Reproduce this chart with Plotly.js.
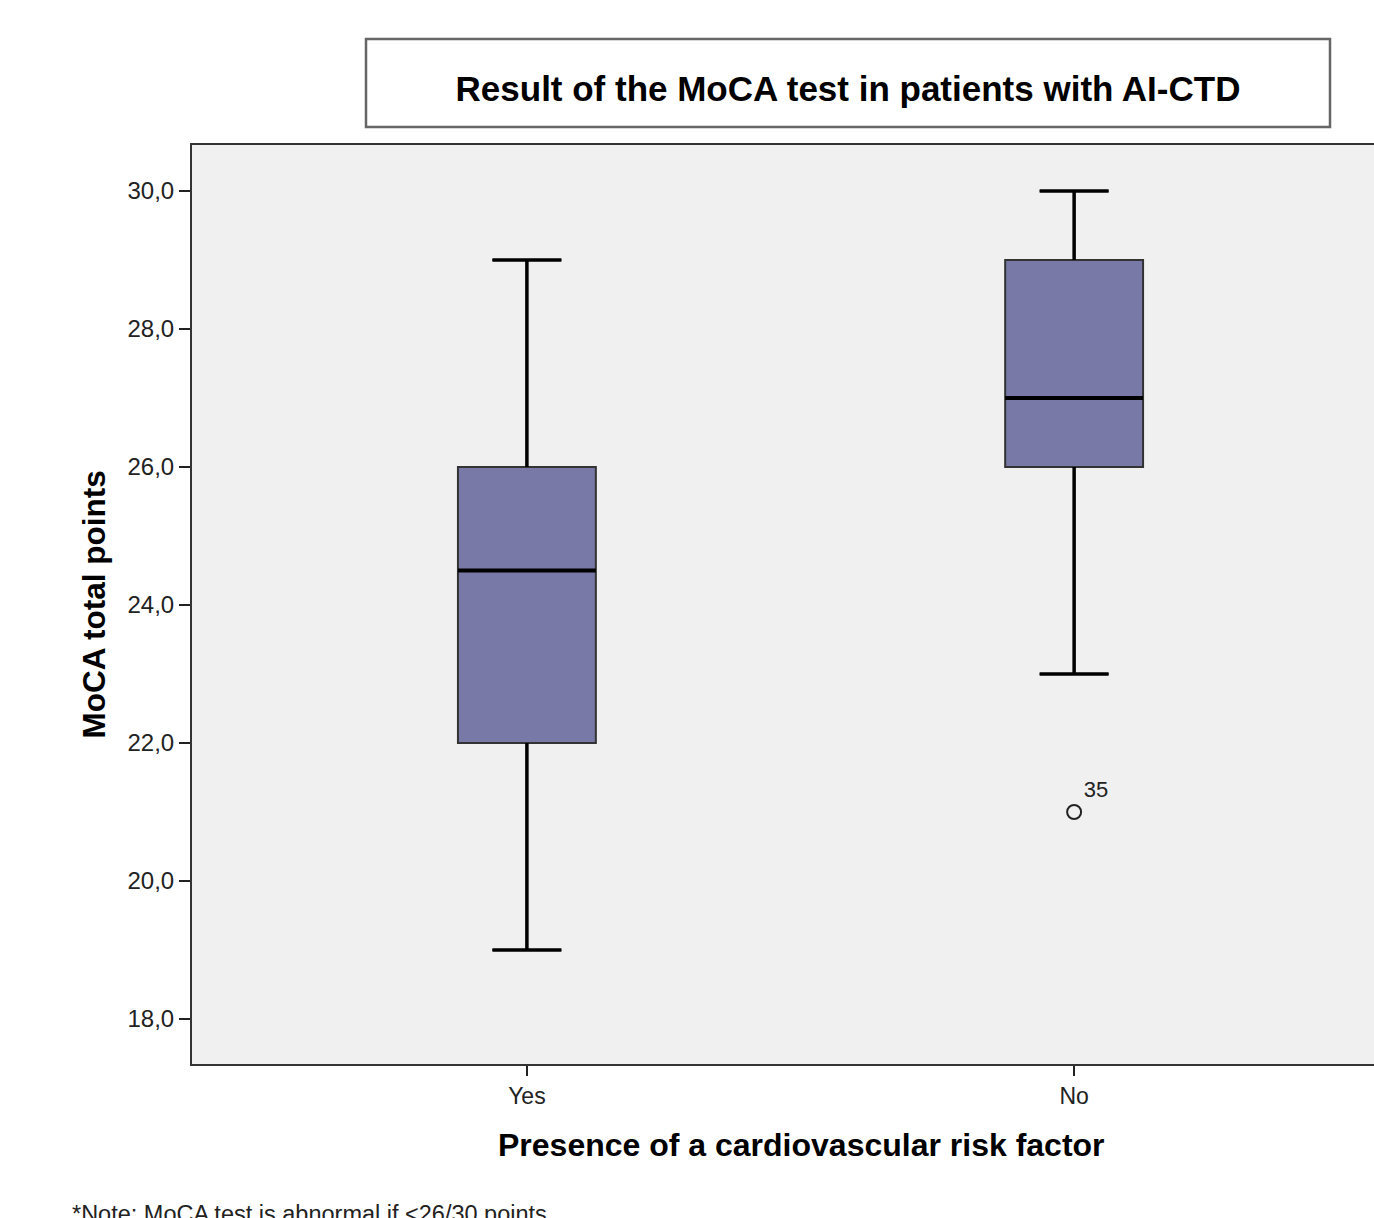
<!DOCTYPE html>
<html>
<head>
<meta charset="utf-8">
<script src="https://cdn.plot.ly/plotly-3.0.1.min.js"></script>
<style>html,body{margin:0;padding:0;background:#fff;}</style>
</head>
<body>
<div id="chart" style="width:1374px;height:1218px;"></div>
<script>
// Data
const categories = ["Yes", "No"];
const lowerFence = [19, 23];
const q1 = [22, 26];
const median = [24.5, 27];
const q3 = [26, 29];
const upperFence = [29, 30];
const outlierCategory = ["No"];
const outlierValue = [21];
const outlierLabel = ["35"];
const yTicks = [18, 20, 22, 24, 26, 28, 30];

const pos = categories.map((c, i) => i);
const boxHalf = 0.126;
const capHalf = 0.063;

const boxTrace = {
  type: 'box',
  x: pos,
  q1: q1, median: median, q3: q3,
  lowerfence: lowerFence, upperfence: upperFence,
  width: boxHalf * 2,
  whiskerwidth: 0.5,
  boxpoints: false,
  fillcolor: '#7879a6',
  line: {color: '#333333', width: 2},
  hoverinfo: 'skip',
  showlegend: false
};

// thick median lines
const medX = [], medY = [];
pos.forEach((p, i) => { medX.push(p - boxHalf, p + boxHalf, null); medY.push(median[i], median[i], null); });
const medianTrace = {type: 'scatter', mode: 'lines', x: medX, y: medY, line: {color: '#000', width: 4}, hoverinfo: 'skip', showlegend: false};

// thick whiskers
const wX = [], wY = [];
pos.forEach((p, i) => {
  wX.push(p, p, null, p - capHalf, p + capHalf, null, p, p, null, p - capHalf, p + capHalf, null);
  wY.push(q3[i], upperFence[i], null, upperFence[i], upperFence[i], null, q1[i], lowerFence[i], null, lowerFence[i], lowerFence[i], null);
});
const whiskerTrace = {type: 'scatter', mode: 'lines', x: wX, y: wY, line: {color: '#000', width: 3.5}, hoverinfo: 'skip', showlegend: false};

const outlierTrace = {
  type: 'scatter', mode: 'markers+text',
  x: outlierCategory.map(c => categories.indexOf(c)),
  y: outlierValue,
  text: outlierLabel,
  textposition: 'top right',
  textfont: {family: 'Liberation Sans, Arial, sans-serif', size: 22, color: '#222'},
  marker: {symbol: 'circle-open', size: 14, color: '#222', line: {width: 2, color: '#222'}},
  hoverinfo: 'skip', showlegend: false
};

const font = 'Liberation Sans, Arial, sans-serif';
const layout = {
  width: 1374, height: 1218,
  margin: {l: 192, r: 0, t: 145, b: 154},
  paper_bgcolor: '#ffffff',
  plot_bgcolor: '#f0f0f0',
  separators: ',.',
  showlegend: false,
  font: {family: font, color: '#222'},
  title: {
    text: '<b>Result of the MoCA test in patients with AI-CTD</b>',
    font: {family: font, size: 35, color: '#000'},
    x: 848 / 1374, xanchor: 'center', xref: 'container',
    y: 1 - 89 / 1218, yanchor: 'middle', yref: 'container'
  },
  xaxis: {
    range: [-0.612, 1.548],
    tickvals: pos, ticktext: categories,
    ticks: 'outside', ticklen: 10, tickwidth: 2, tickcolor: '#222',
    tickfont: {family: font, size: 23, color: '#222'},
    showline: true, mirror: true, linecolor: '#333', linewidth: 2,
    showgrid: false, zeroline: false, fixedrange: true
  },
  yaxis: {
    range: [17.348, 30.667],
    tickvals: yTicks, tickformat: '.1f',
    ticks: 'outside', ticklen: 11, tickwidth: 2, tickcolor: '#222',
    tickfont: {family: font, size: 24, color: '#222'},
    showline: true, mirror: false, linecolor: '#333', linewidth: 2,
    showgrid: false, zeroline: false, fixedrange: true
  },
  shapes: [{
    type: 'rect', xref: 'paper', yref: 'paper',
    x0: (366 - 192) / 1182, x1: (1330 - 192) / 1182,
    y0: (1064 - 127) / 919, y1: (1064 - 39) / 919,
    line: {color: '#666', width: 2.5}, fillcolor: '#ffffff'
  }],
  annotations: [
    {
      text: '<b>MoCA total points</b>', textangle: -90,
      xref: 'paper', yref: 'paper', x: (93 - 192) / 1182, y: 0.5,
      xanchor: 'center', yanchor: 'middle', showarrow: false,
      font: {family: font, size: 31.5, color: '#000'}
    },
    {
      text: '<b>Presence of a cardiovascular risk factor</b>',
      xref: 'paper', yref: 'paper', x: (801 - 192) / 1182, y: (1064 - 1145) / 919,
      xanchor: 'center', yanchor: 'middle', showarrow: false,
      font: {family: font, size: 32, color: '#000'}
    },
    {
      text: '*Note: MoCA test is abnormal if <26/30 points',
      xref: 'paper', yref: 'paper', x: (70 - 192) / 1182, y: (1064 - 1199) / 919,
      xanchor: 'left', yanchor: 'top', showarrow: false,
      font: {family: font, size: 23.5, color: '#222'}
    }
  ]
};

Plotly.newPlot('chart', [boxTrace, whiskerTrace, medianTrace, outlierTrace], layout, {displayModeBar: false, staticPlot: true});
</script>
</body>
</html>
